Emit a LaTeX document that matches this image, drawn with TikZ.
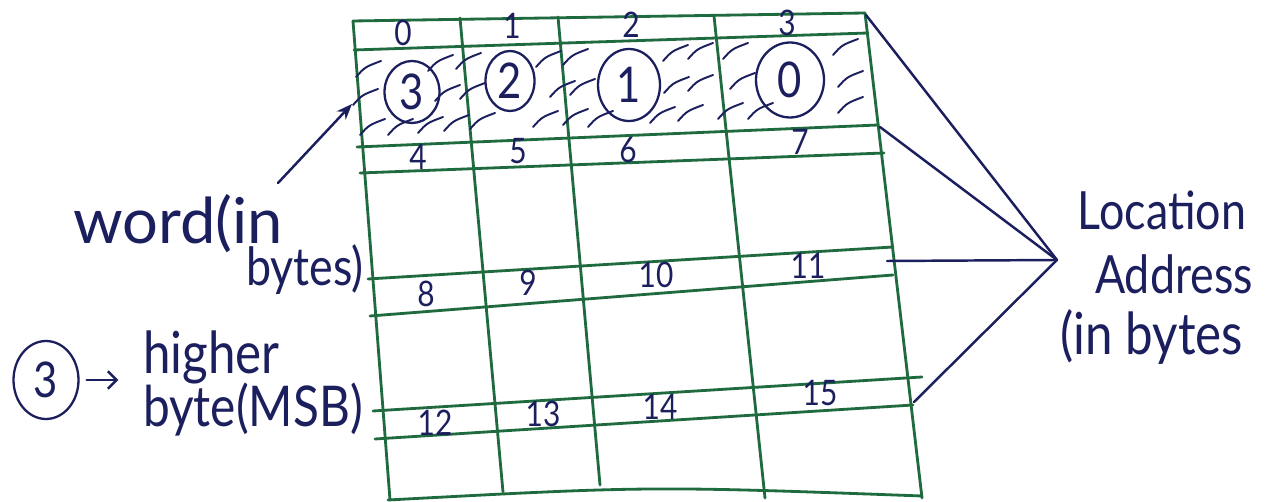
\documentclass[tikz,border=0pt]{standalone}
\usepackage{fontspec}
\setmainfont{Lato}
\newfontfamily\hand[FakeStretch=0.85]{Lato}
\newfontfamily\handw{Lato}
\usetikzlibrary{shapes.geometric,arrows.meta}
\definecolor{gridgreen}{HTML}{1F6B3F}
\definecolor{ink}{HTML}{1C1F5E}
\begin{document}
\begin{tikzpicture}[x=0.02cm,y=-0.02cm,
  gridline/.style={draw=gridgreen, line width=1.6pt, line cap=round},
  inkline/.style={draw=ink, line width=1.4pt, line cap=round},
  hatch/.style={draw=ink, line width=1.1pt, line cap=round},
  num/.style={text=ink, font=\hand\fontsize{20}{20}\selectfont, inner sep=0pt},
  circnum/.style={draw=ink, line width=1.3pt, ellipse, text=ink, font=\hand\fontsize{28}{28}\selectfont, inner sep=0pt},
  lbl/.style={text=ink, font=\hand\fontsize{30}{30}\selectfont, inner sep=0pt}]
\useasboundingbox (0,0) rectangle (1268,502);
\fill[white] (0,0) rectangle (1268,502);
% grid horizontals
\draw[gridline] (353,21) -- (865,13);
\draw[gridline] (354,50) -- (868,33);
\draw[gridline] (357,147) -- (878,125);
\draw[gridline] (360,173) -- (884,153);
\draw[gridline] (368,279) -- (893,247);
\draw[gridline] (370,316) -- (893,275);
\draw[gridline] (373,411) -- (922,377);
\draw[gridline] (375,439) -- (913,405);
\draw[gridline] (388,500) .. controls (650,486) .. (922,496);
% grid verticals
\draw[gridline] (353,21) -- (390,500);
\draw[gridline] (460,18) -- (503,492);
\draw[gridline] (558,17) -- (600,485);
\draw[gridline] (714,16) -- (765,498);
\draw[gridline] (865,13) -- (922,498);
% hatching
\foreach \x/\y in {368/68,440/62,468/60,548/58,575/56,675/52,700/50,735/50,845/46,
                   365/96,447/92,472/90,562/88,582/86,676/84,700/82,742/80,850/78,
                   372/126,400/126,430/124,456/122,482/120,545/118,575/116,600/118,662/114,690/112,730/110,760/110,850/104}
  \draw[hatch] (\x-12,\y+9) .. controls (\x-3,\y-1) .. (\x+13,\y-7);
% numbers top row
\node[num] (n0) at (403,33) {0};
\node[num] (n1) at (512,26) {1};
\node[num] (n2) at (631,25) {2};
\node[num] (n3) at (787,23) {3};
% circled bytes
\node[circnum, minimum width=1.1cm, minimum height=1.24cm] (b3) at (412,92) {3};
\node[circnum, minimum width=0.98cm, minimum height=1.2cm] (b2) at (510,81) {2};
\node[circnum, minimum width=1.24cm, minimum height=1.44cm] (b1) at (629,85) {1};
\node[circnum, minimum width=1.36cm, minimum height=1.5cm] (b0) at (790,80) {0};
% row 4-7
\node[num] (n4) at (418,157) {4};
\node[num] (n5) at (518,151) {5};
\node[num] (n6) at (628,150) {6};
\node[num] (n7) at (800,142) {7};
% row 8-11
\node[num] (n8) at (426,294) {8};
\node[num] (n9) at (528,283) {9};
\node[num] (n10) at (656,275) {10};
\node[num] (n11) at (808,266) {11};
% row 12-15
\node[num] (n12) at (435,423) {12};
\node[num] (n13) at (543,414) {13};
\node[num] (n14) at (660,407) {14};
\node[num] (n15) at (820,393) {15};
% left labels
\node[text=ink, font=\handw\fontsize{36}{36}\selectfont, inner sep=0pt] (word) at (178,224) {word(in};
\node[lbl] (bytes) at (305,270) {bytes)};
\coordinate (wa) at (278,183);
\coordinate (wb) at (352,104);
\draw[inkline,-{Stealth[length=9pt,width=7pt]}] (wa) -- (wb);
\node[circnum, minimum width=1.3cm, minimum height=1.56cm] (c3) at (46,380) {3};
\node[lbl, font=\hand\fontsize{33}{33}\selectfont, anchor=west] (hi) at (143,357) {higher};
\node[lbl, font=\hand\fontsize{32}{32}\selectfont] (msb) at (253,410) {byte(MSB)};
\draw[inkline,-{Straight Barb[length=5pt]}, shorten <=4pt, shorten >=14pt] (c3.east) -- (hi.west |- c3.east);
% right labels
\node[lbl] (loc) at (1162,210) {Location};
\node[lbl] (addr) at (1174,274) {Address};
\node[lbl, font=\hand\fontsize{33}{33}\selectfont] (inb) at (1152,337) {(in bytes};
\coordinate (P) at (1057,260);
\coordinate (t1) at (866,15);
\coordinate (t2) at (880,127);
\coordinate (t3) at (887,261);
\coordinate (t4) at (914,402);
\draw[inkline] (t1) -- (P);
\draw[inkline] (t2) -- (P);
\draw[inkline] (t3) -- (P);
\draw[inkline] (t4) -- (P);
\end{tikzpicture}
\end{document}
